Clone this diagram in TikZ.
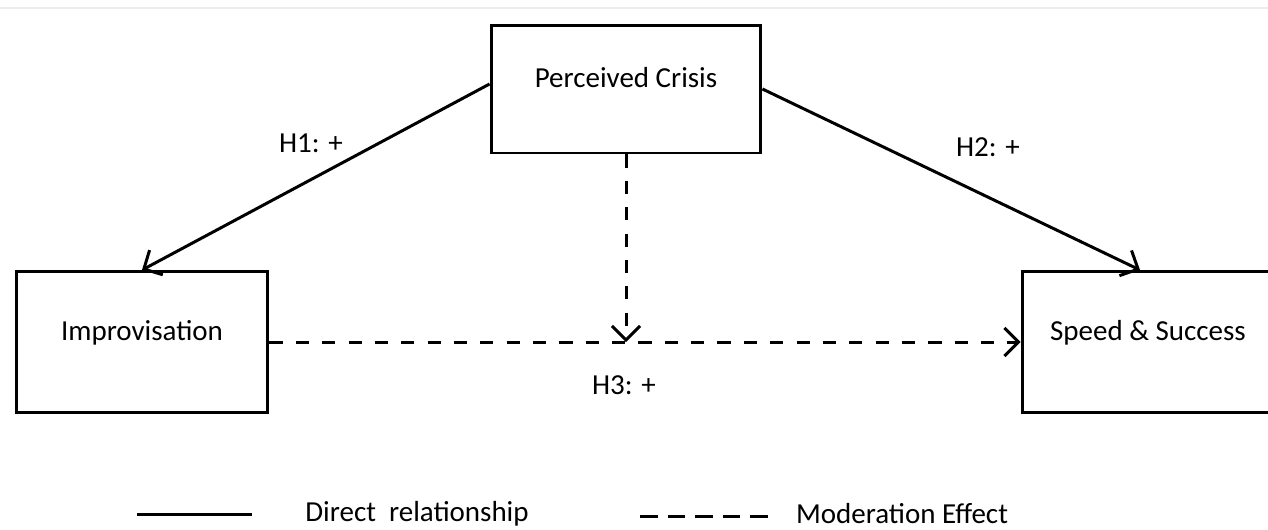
\documentclass[tikz,border=0pt]{standalone}
\usepackage{fontspec}
\setmainfont{Carlito}
\usetikzlibrary{arrows.meta, positioning}

\tikzset{
	box/.style={draw, line width=1.7pt, minimum width=5.4cm, minimum height=2.56cm, text depth=0.45cm, font=\fontsize{16.5}{19}\selectfont},
	direct/.style={line width=1.7pt, -{Straight Barb[length=2.8mm, width=5.6mm, line width=1.7pt]}},
	moder/.style={direct, dash pattern=on 7.5pt off 7.5pt},
	lbl/.style={font=\fontsize{16.5}{19}\selectfont}
}

\begin{document}
\begin{tikzpicture}[x=0.02cm, y=-0.02cm]

		\useasboundingbox (0,0) rectangle (1268,529);
		\draw[gray!15, line width=1pt] (0,8) -- (1268,8);

		% Bloki
		\node[box] (crisis) at (626,89) {Perceived Crisis};
		\node[box, minimum width=5.04cm, minimum height=2.82cm] (improv) at (142,342) {Improvisation};
		\node[box, minimum width=5.04cm, minimum height=2.82cm] (speed) at (1148,342) {Speed \& Success};

		% Hipotezy H1, H2
		\draw[direct] ([yshift=0.1cm]crisis.west) -- (improv.north);
		\draw[direct] (crisis.east) -- ([xshift=-0.16cm]speed.north);
		\node[lbl] (h1) at (311,143) {H1: +};
		\node[lbl] (h2) at (988,147) {H2: +};

		% Moderacja H3
		\coordinate (meet) at (crisis.south |- improv.east);
		\draw[moder] (improv.east) -- (speed.west);
		\draw[moder] (crisis.south) -- (meet);
		\node[lbl] (h3) at (624,385) {H3: +};

		% Legenda
		\coordinate (solidA) at (137,514);
		\coordinate (solidB) at (252,514);
		\draw[line width=1.7pt] (solidA) -- (solidB);
		\node[lbl, anchor=base] (legdirect) at (417,521) {Direct\ \ relationship};
		\coordinate (dashA) at (640,516);
		\coordinate (dashB) at (770,516);
		\draw[line width=1.7pt, dash pattern=on 10pt off 5.7pt] (dashA) -- (dashB);
		\node[lbl, anchor=base] (legmoder) at (902,523) {Moderation Effect};

	\end{tikzpicture}
\end{document}
